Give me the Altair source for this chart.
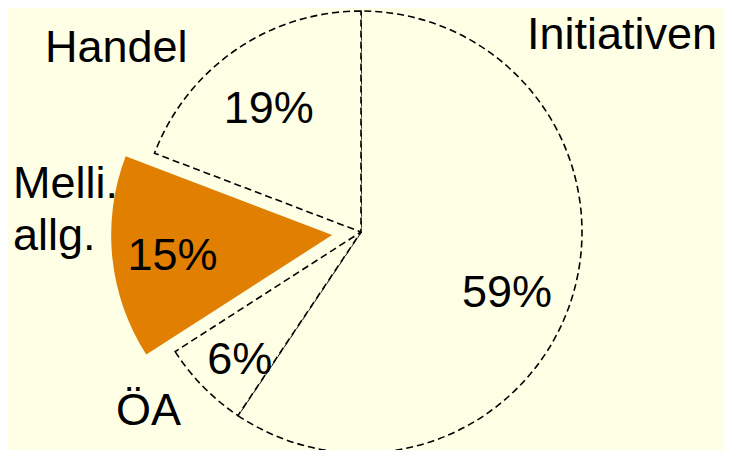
import math
import altair as alt
import pandas as pd

# ---- data ----
categories = ["Initiativen", "ÖA", "Melli. allg.", "Handel"]
shares = [59.4, 6.5, 14.9, 19.2]
pct_labels = ["59%", "6%", "15%", "19%"]
name_labels = ["Initiativen", "ÖA", "Melli.\nallg.", "Handel"]

# ---- style / layout ----
BG = "#FFFFE6"
ORANGE = "#E17F00"
FONT = "Liberation Sans"
W, H = 716, 442
CX, CY = 353, 224
R = 221
EXPLODED = "Melli. allg."
EXPLODE_DIST = 29
# (angle adjustment in share units, radius in px) for the percentage labels
PCT_ADJ = {"Initiativen": (1.56, 158), "ÖA": (-0.56, 176),
           "Melli. allg.": (-0.39, 161), "Handel": (-0.61, 154)}
# anchors for the category names (left/alphabetic)
NAME_POS = {"Initiativen": (519, 41), "ÖA": (108, 417),
            "Melli. allg.": (5, 190), "Handel": (37, 54)}

df = pd.DataFrame({"cat": categories, "share": shares, "pct": pct_labels,
                   "name": name_labels, "idx": list(range(len(categories)))})

total = sum(shares)
i_ex = categories.index(EXPLODED)
start = sum(shares[:i_ex])
ang = 2 * math.pi * (start + shares[i_ex] / 2) / total
EX = CX + EXPLODE_DIST * math.sin(ang)
EY = CY - EXPLODE_DIST * math.cos(ang)

th_scale = alt.Scale(domain=[0, total])
base = alt.Chart(df)
is_ex = f"datum.cat == '{EXPLODED}'"

pie = base.mark_arc(radius=R, stroke="black", strokeWidth=1.6,
                    strokeDash=[7, 4]).encode(
    theta=alt.Theta("share:Q", stack=True, scale=th_scale),
    order=alt.Order("idx:Q"),
    fill=alt.value(BG),
    fillOpacity=alt.condition(is_ex, alt.value(0), alt.value(1)),
    strokeOpacity=alt.condition(is_ex, alt.value(0), alt.value(1)),
    x=alt.value(CX), y=alt.value(CY),
)

ex_slice = base.mark_arc(radius=R, strokeWidth=0).encode(
    theta=alt.Theta("share:Q", stack=True, scale=th_scale),
    order=alt.Order("idx:Q"),
    fill=alt.value(ORANGE),
    fillOpacity=alt.condition(is_ex, alt.value(1), alt.value(0)),
    x=alt.value(EX), y=alt.value(EY),
)

layers = [pie, ex_slice]

for c in categories:
    adj, rad = PCT_ADJ[c]
    cx, cy = (EX, EY) if c == EXPLODED else (CX, CY)
    t = base.transform_window(
        cum="sum(share)", sort=[alt.SortField("idx")], frame=[None, 0]
    ).transform_calculate(
        lang=f"datum.cum - datum.share/2 + ({adj})"
    ).transform_filter(f"datum.cat == '{c}'").mark_text(
        font=FONT, fontSize=45, color="black", align="center", baseline="middle"
    ).encode(
        theta=alt.Theta("lang:Q", stack=None, scale=th_scale),
        radius=alt.value(rad),
        text="pct:N",
        x=alt.value(cx), y=alt.value(cy),
    )
    layers.append(t)

for c in categories:
    px, py = NAME_POS[c]
    t = base.transform_filter(f"datum.cat == '{c}'").mark_text(
        font=FONT, fontSize=45, color="black", align="left",
        baseline="alphabetic", lineBreak="\n", lineHeight=52
    ).encode(text="name:N", x=alt.value(px), y=alt.value(py))
    layers.append(t)

chart = alt.layer(*layers).properties(
    width=W, height=H, padding=0, autosize="none", background=BG
).configure_view(stroke=None)

chart.save("out.html", embed_options={"renderer": "svg", "actions": False})
